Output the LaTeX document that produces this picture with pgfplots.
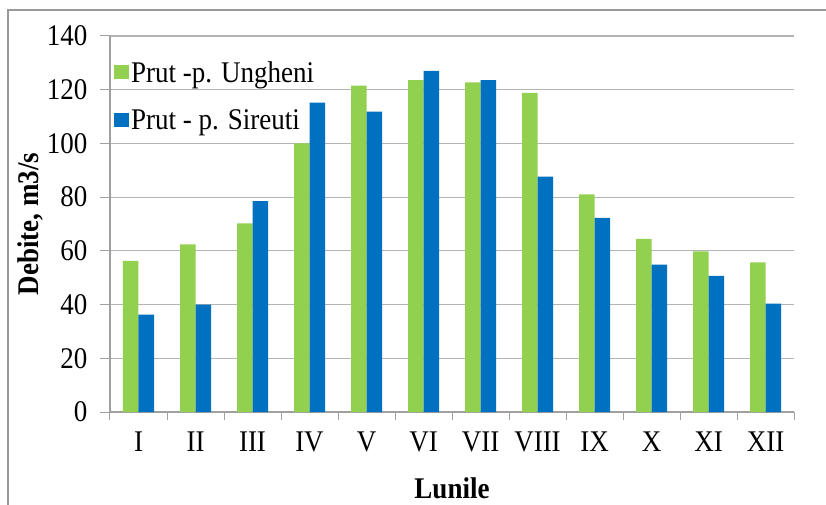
\documentclass[border=0pt]{standalone}
\usepackage{fontspec}
\setmainfont[FakeStretch=0.9]{Liberation Serif}
\usepackage{pgfplots}
\pgfplotsset{compat=1.18}
\definecolor{cgreen}{HTML}{92D050}
\definecolor{cblue}{HTML}{0070C0}
\definecolor{gridc}{HTML}{B4B4B4}
\definecolor{axc}{HTML}{A0A0A0}
\begin{document}
\begin{tikzpicture}[x=1pt,y=1pt]
\begin{axis}[
  at={(0pt,0pt)}, anchor=south west,
  scale only axis, width=684pt, height=376pt,
  xmin=-0.5, xmax=11.5, ymin=0, ymax=140,
  ytick={0,20,...,140},
  xtick={0,...,11},
  xticklabels={I,II,III,IV,V,VI,VII,VIII,IX,X,XI,XII},
  major x tick style={draw=none},
  minor xtick={-0.5,0.5,...,11.5},
  minor tick length=8pt,
  major tick length=10pt,
  tick align=outside,
  tick style={axc, line width=1pt},
  axis x line*=bottom, axis y line*=left,
  axis line style={axc, line width=1.2pt, -},
  ymajorgrids, grid style={gridc, line width=1.2pt},
  ybar=0pt, bar width=15.5pt,
  /pgf/number format/assume math mode=true,
  tick label style={font=\fontsize{30}{34}\selectfont},
  yticklabel style={xshift=-9pt},
  xticklabel style={yshift=-6pt},
  label style={font=\bfseries\fontsize{30}{34}\selectfont},
  xlabel={Lunile}, ylabel={Debite, m3/s},
  xlabel style={at={(axis description cs:0.5,0)}, anchor=center, yshift=-76pt},
  ylabel style={at={(axis description cs:0,0.5)}, anchor=center, yshift=80pt},
  legend style={at={(axis description cs:0,1)}, anchor=north west, xshift=2pt, yshift=-20pt,
    draw=none, fill=none, font=\fontsize{30}{34}\selectfont, row sep=22pt,
    inner xsep=2pt, inner ysep=3pt},
  legend cell align=left,
  legend image code/.code={\fill[#1] (0pt,-7pt) rectangle (15pt,7pt);},
]
\addplot[fill=cgreen, draw=none] coordinates {(0,56.3) (1,62.4) (2,70.2) (3,100) (4,121.5) (5,123.6) (6,122.7) (7,118.8) (8,81) (9,64.5) (10,59.8) (11,55.7)};
\addplot[fill=cblue, draw=none] coordinates {(0,36.3) (1,40) (2,78.5) (3,115.2) (4,111.8) (5,127) (6,123.6) (7,87.6) (8,72.3) (9,54.9) (10,50.7) (11,40.4)};
\legend{Prut -p. Ungheni, Prut - p. Sireuti}
\end{axis}
\draw[gray!80, line width=1.5pt] (-102pt,-110pt) rectangle (730pt,402pt);
\pgfresetboundingbox
\path[use as bounding box] (-110pt,-92pt) rectangle (716pt,412pt);
\end{tikzpicture}
\end{document}
